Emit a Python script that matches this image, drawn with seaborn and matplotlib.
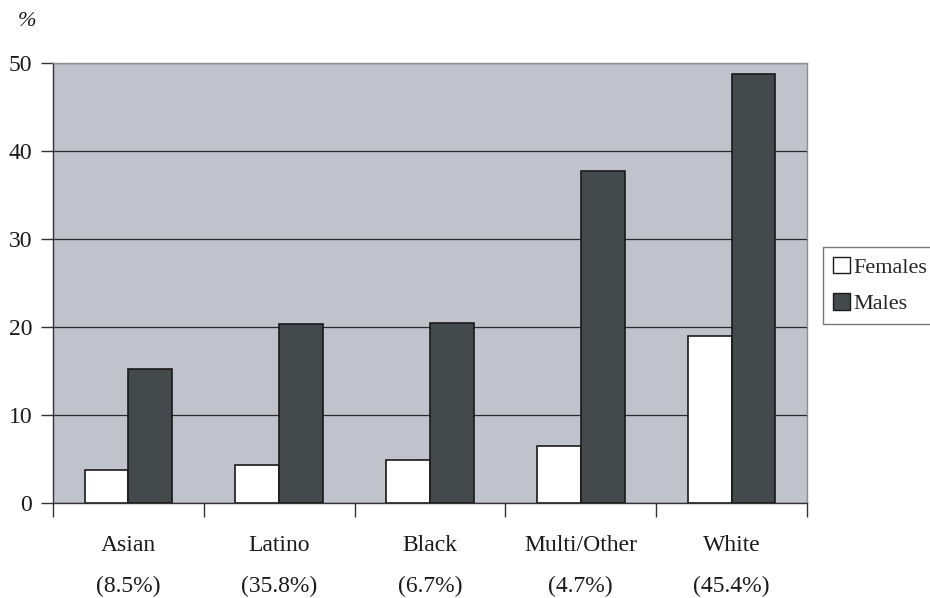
import matplotlib
matplotlib.use("Agg")
import matplotlib.pyplot as plt
import seaborn as sns
import pandas as pd
import numpy as np
from matplotlib.patches import Patch

groups = ["Asian", "Latino", "Black", "Multi/Other", "White"]
shares = ["(8.5%)", "(35.8%)", "(6.7%)", "(4.7%)", "(45.4%)"]
females = [3.8, 4.3, 4.9, 6.5, 19.0]
males = [15.2, 20.3, 20.5, 37.7, 48.8]
series = ["Females", "Males"]
yticks = [0, 10, 20, 30, 40, 50]

df = pd.DataFrame({
    "group": groups * 2,
    "sex": ["Females"] * len(groups) + ["Males"] * len(groups),
    "value": females + males,
})

sns.set_theme(style="white")
plt.rcParams["font.family"] = ["Liberation Serif", "DejaVu Serif"]

FS = 17

fig = plt.figure(figsize=(9.3, 5.98), dpi=100)
ax = fig.add_axes([53 / 930, 1 - 503 / 598, (807 - 53) / 930, (503 - 63) / 598])

colors = {"Females": "#FFFFFF", "Males": "#434A4C"}
sns.barplot(data=df, x="group", y="value", hue="sex", order=groups,
            hue_order=series, palette=colors, width=0.58, ax=ax,
            edgecolor="#1a1a1a", linewidth=1.2, legend=False, zorder=3)

ax.set_facecolor("#C0C3CB")
ax.set_ylim(0, 50)
ax.set_xlim(-0.5, len(groups) - 0.5)
ax.set_yticks(yticks)
ax.set_yticklabels([str(v) for v in yticks], fontsize=FS, color="#1a1a1a")
ax.yaxis.grid(True, color="#2a2a2a", linewidth=0.9, zorder=1)
ax.set_axisbelow(True)

ax.set_xticks(np.arange(len(groups)))
ax.set_xticklabels([f"{g}\n{s}" for g, s in zip(groups, shares)],
                   fontsize=FS, color="#1a1a1a", linespacing=2.25)
ax.tick_params(axis="x", which="major", bottom=True, length=0, pad=23)
ax.set_xticks(np.arange(len(groups) + 1) - 0.5, minor=True)
ax.tick_params(axis="x", which="minor", bottom=True, length=10, width=1,
               color="#333333", direction="out")
ax.tick_params(axis="y", which="major", left=True, length=9, width=1,
               color="#333333", direction="out", pad=6)
ax.set_xlabel("")
ax.set_ylabel("")

for side in ["top", "right"]:
    ax.spines[side].set_color("#8a8f96")
    ax.spines[side].set_linewidth(1.0)
for side in ["left", "bottom"]:
    ax.spines[side].set_color("#333333")
    ax.spines[side].set_linewidth(1.0)

fig.text(18 / 930, 1 - 21 / 598, "%", fontsize=16, style="italic",
         va="center", ha="left", color="#1a1a1a")

handles = [Patch(facecolor=colors[s], edgecolor="#1a1a1a", label=s) for s in series]
leg = fig.legend(handles=handles, loc="upper left",
                 bbox_to_anchor=(823 / 930, 1 - 247 / 598),
                 fontsize=16, frameon=True, fancybox=False,
                 handlelength=0.75, handleheight=0.75, handletextpad=0.15,
                 borderpad=0.45, labelspacing=0.7, borderaxespad=0)
leg.get_frame().set_edgecolor("#555555")
leg.get_frame().set_linewidth(1.0)

fig.savefig("out.png", dpi=100)
